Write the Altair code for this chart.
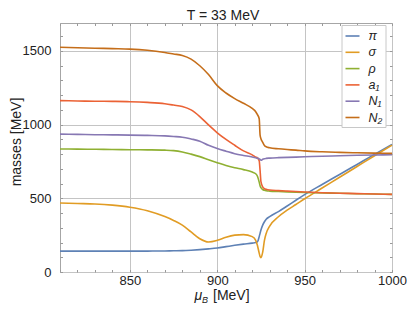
import altair as alt
import pandas as pd

# ---- data ----
mu = [810, 820, 830, 840, 850, 860, 870, 875, 880, 885, 890, 895, 900, 905, 910,
      915, 920, 922, 923, 924, 924.5, 925, 926, 927, 928, 930, 935, 940, 945, 950,
      960, 970, 980, 990, 1000]

pi_m = [142, 142, 142, 142, 142, 142, 143, 144, 145, 148, 152, 157, 163, 172, 181,
        189, 196, 200, 204, 240, 262, 285, 318, 341, 358, 376, 410, 448, 487, 525,
        594, 662, 730, 798, 866]
sigma_m = [468, 465, 462, 454, 440, 416, 376, 350, 318, 272, 226, 204, 215, 236, 250,
           254, 240, 215, 180, 128, 105, 97, 135, 215, 262, 312, 375, 420, 458, 497,
           570, 643, 716, 789, 861]
rho_m = [835, 834, 833, 831, 830, 829, 827, 824, 815, 800, 783, 762, 742, 723, 708,
         695, 678, 667, 650, 610, 585, 572, 560, 555, 552, 549, 546, 544, 542, 540,
         537, 534, 531, 529, 527]
a1_m = [1163, 1161, 1159, 1158, 1156, 1151, 1142, 1133, 1123, 1100, 1055, 998, 945, 900, 860,
        822, 795, 780, 774, 755, 690, 613, 578, 566, 561, 556, 552, 549, 546, 543,
        538, 535, 532, 529, 527]
n1_m = [936, 934, 932, 931, 929, 927, 924, 920, 915, 903, 888, 860, 838, 820, 803,
        791, 781, 775, 772, 768, 764, 758, 765, 769, 771, 773, 776, 778, 780, 782,
        786, 789, 792, 794, 796]
n2_m = [1525, 1522, 1519, 1516, 1513, 1505, 1490, 1480, 1470, 1445, 1400, 1340, 1265, 1215, 1177,
        1145, 1110, 1088, 1068, 1040, 930, 905, 880, 858, 850, 843, 836, 831, 827, 822,
        816, 812, 809, 807, 805]

series_names = ["π", "σ", "ρ", "a₁", "N₁", "N₂"]
series_colors = ["#5E81B5", "#E19C24", "#8FB032", "#EB6235", "#8778B3", "#C56E1A"]

x_domain = [810, 1000]
y_domain = [0, 1690]
x_ticks = list(range(810, 1001, 10))
y_ticks = list(range(0, 1700, 100))

rows = []
for name, vals in zip(series_names, [pi_m, sigma_m, rho_m, a1_m, n1_m, n2_m]):
    for xv, yv in zip(mu, vals):
        rows.append({"mu": xv, "m": yv, "s": name})
df = pd.DataFrame(rows)

W, H = 332, 249
FONT = "Liberation Sans"
TXT = "#222222"
TICK = "#999999"
GRID = "#c4c4c4"
major_x = "datum.value % 50 === 0"
major_y = "datum.value % 500 === 0"

xscale = alt.Scale(domain=x_domain, nice=False, zero=False)
yscale = alt.Scale(domain=y_domain, nice=False)

x_axis = alt.Axis(
    orient="bottom", values=x_ticks, format="d",
    labelExpr=f"{major_x} ? datum.label : ''", title=None, domain=False,
    grid=True, gridColor=GRID, gridWidth=1,
    gridOpacity={"condition": {"test": major_x, "value": 1}, "value": 0},
    ticks=True, tickSize=2.5, tickColor=TICK, offset=-2.5,
    labelPadding=2, labelFont=FONT, labelFontSize=13, labelColor=TXT,
    labelOverlap=False, labelFlush=False, labelBound=False,
)
y_axis = alt.Axis(
    orient="left", values=y_ticks, format="d",
    labelExpr=f"{major_y} ? datum.label : ''", title=None, domain=False,
    grid=True, gridColor=GRID, gridWidth=1,
    gridOpacity={"condition": {"test": major_y, "value": 1}, "value": 0},
    ticks=True, tickSize=2.5, tickColor=TICK, offset=-2.5,
    labelPadding=9, labelFont=FONT, labelFontSize=13, labelColor=TXT,
    labelOverlap=False, labelFlush=False, labelBound=False,
)

lines = alt.Chart(df).mark_line(strokeWidth=1.6, interpolate="monotone").encode(
    x=alt.X("mu:Q", scale=xscale, axis=x_axis),
    y=alt.Y("m:Q", scale=yscale, axis=y_axis),
    color=alt.Color(
        "s:N", sort=series_names,
        scale=alt.Scale(domain=series_names, range=series_colors),
        legend=alt.Legend(
            title=None, orient="none", legendX=281.5, legendY=2,
            symbolType="stroke", symbolSize=196, symbolStrokeWidth=1.6,
            labelFont=FONT, labelFontSize=12.5, labelFontStyle="italic",
            labelColor=TXT, labelOffset=8,
            padding=3, rowPadding=1.3,
            fillColor="white", strokeColor="#c8c8c8", cornerRadius=0,
        ),
    ),
)

frame_ticks = alt.Chart(df).mark_point(opacity=0).encode(
    x=alt.X("mu:Q", scale=xscale, axis=alt.Axis(
        orient="top", values=x_ticks, labels=False, grid=False, domain=False,
        tickSize=2.5, tickColor=TICK, offset=-2.5, title=None)),
    y=alt.Y("m:Q", scale=yscale, axis=alt.Axis(
        orient="right", values=y_ticks, labels=False, grid=False, domain=False,
        tickSize=2.5, tickColor=TICK, offset=-2.5, title=None)),
)

one = pd.DataFrame({"k": [0]})
title_txt = alt.Chart(one).mark_text(
    text="T = 33 MeV", font=FONT, fontSize=14, color=TXT, align="center",
    baseline="alphabetic").encode(x=alt.value(163), y=alt.value(-3.5))
ytitle = alt.Chart(one).mark_text(
    text="masses [MeV]", font=FONT, fontSize=14, color=TXT, align="center",
    baseline="alphabetic", angle=270).encode(x=alt.value(-39.5), y=alt.value(119))
xt_mu = alt.Chart(one).mark_text(
    text="μ", font=FONT, fontSize=14, fontStyle="italic", color=TXT, align="left",
    baseline="alphabetic").encode(x=alt.value(134.5), y=alt.value(276.5))
xt_b = alt.Chart(one).mark_text(
    text="B", font=FONT, fontSize=9, fontStyle="italic", color=TXT, align="left",
    baseline="alphabetic").encode(x=alt.value(142), y=alt.value(280))
xt_unit = alt.Chart(one).mark_text(
    text="[MeV]", font=FONT, fontSize=14, color=TXT, align="left",
    baseline="alphabetic").encode(x=alt.value(153), y=alt.value(276.5))

chart = alt.layer(lines, frame_ticks, title_txt, ytitle, xt_mu, xt_b, xt_unit).resolve_axis(
    x="independent", y="independent"
).properties(
    width=W, height=H,
    autosize=alt.AutoSizeParams(type="none"),
    padding={"left": 52, "top": 15, "right": 15, "bottom": 41},
).configure_view(stroke="#a6a6a6", strokeWidth=1)

chart.save("out.html", embed_options={"renderer": "svg", "actions": False})
